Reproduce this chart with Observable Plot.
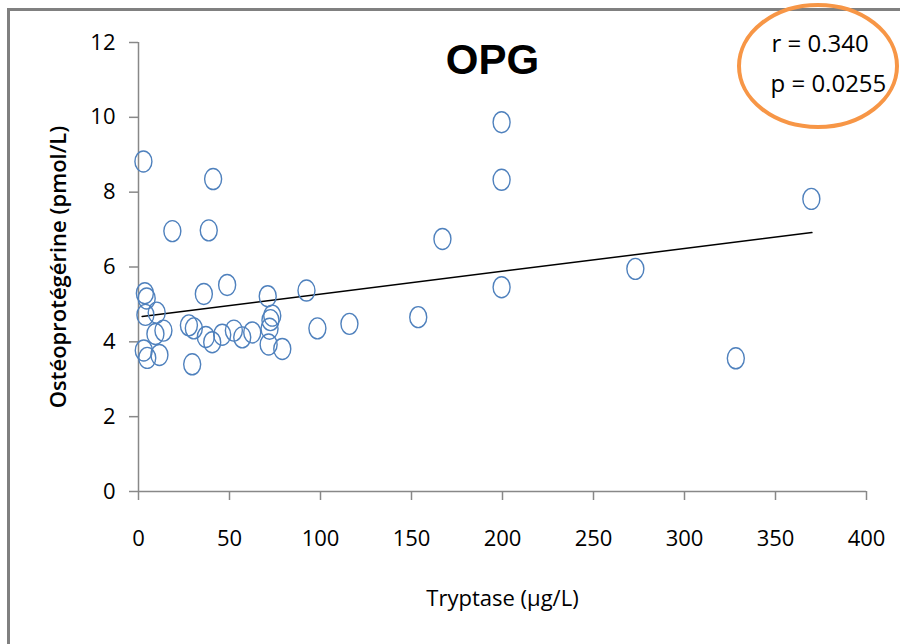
<!DOCTYPE html>
<html>
<head>
<meta charset="utf-8">
<script src="https://cdn.jsdelivr.net/npm/d3@7"></script>
<script src="https://cdn.jsdelivr.net/npm/@observablehq/plot@0.6"></script>
<style>
  html, body { margin: 0; padding: 0; background: #fff; overflow: hidden; }
  #chart svg { display: block; }
</style>
</head>
<body>
<div id="chart"></div>
<script>
// Tryptase (µg/L)
const tryptase = [
  2.7, 41, 18.6, 38.6,
  199.5, 199.5, 369.7, 167, 273, 199.5, 92.3, 115.9, 98.3, 153.7, 328.2,
  3.5, 4.5, 35.9, 48.7, 71,
  3.8, 10,
  9.3, 13.7,
  2.9, 4.8, 11.5,
  29.5,
  27.7, 30.4,
  37, 40.5, 46,
  52.4, 57, 62.5,
  73.5, 72.5, 72, 71.5, 79
];
// Ostéoprotégérine (pmol/L)
const opg = [
  8.82, 8.35, 6.96, 6.98,
  9.87, 8.33, 7.82, 6.75, 5.95, 5.46, 5.37, 4.48, 4.36, 4.66, 3.56,
  5.30, 5.16, 5.28, 5.52, 5.22,
  4.72, 4.78,
  4.21, 4.30,
  3.77, 3.57, 3.65,
  3.40,
  4.44, 4.36,
  4.13, 3.99, 4.19,
  4.30, 4.12, 4.25,
  4.70, 4.58, 4.35, 3.93, 3.81
];
// regression line end points
const trendX = [2, 370];
const trendY = [4.68, 6.92];

const xTicks = [0, 50, 100, 150, 200, 250, 300, 350, 400];
const yTicks = [0, 2, 4, 6, 8, 10, 12];

const title = "OPG";
const statsLines = ["r = 0.340", "p = 0.0255"];
const xLabel = "Tryptase (µg/L)";
const yLabel = "Ostéoprotégérine (pmol/L)";

const points = tryptase.map((x, i) => ({x, y: opg[i]}));
const trend = trendX.map((x, i) => ({x, y: trendY[i]}));

const ellipseSymbol = {
  draw(context) {
    const rx = 8.5, ry = 10.5, k = 0.5523;
    context.moveTo(rx, 0);
    context.bezierCurveTo(rx, k * ry, k * rx, ry, 0, ry);
    context.bezierCurveTo(-k * rx, ry, -rx, k * ry, -rx, 0);
    context.bezierCurveTo(-rx, -k * ry, -k * rx, -ry, 0, -ry);
    context.bezierCurveTo(k * rx, -ry, rx, -k * ry, rx, 0);
    context.closePath();
  }
};

const tickFont = "'Open Sans', sans-serif";

const chart = Plot.plot({
  width: 900,
  height: 644,
  marginLeft: 138,
  marginRight: 34,
  marginTop: 42,
  marginBottom: 153,
  style: {background: "#fff", fontFamily: tickFont, fontSize: "22px", color: "#000", maxWidth: "none"},
  x: {domain: [0, 400]},
  y: {domain: [0, 12]},
  marks: [
    Plot.axisX({ticks: xTicks, tickSize: 9, tickPadding: 30, stroke: "#888", strokeWidth: 1.5, fontSize: 22, label: null, fill: "#000"}),
    Plot.axisY({ticks: yTicks, tickSize: 9, tickPadding: 14, stroke: "#888", strokeWidth: 1.5, fontSize: 22, label: null, fill: "#000"}),
    Plot.ruleX([0], {stroke: "#888", strokeWidth: 1.5}),
    Plot.ruleY([0], {stroke: "#888", strokeWidth: 1.5}),
    Plot.line(trend, {x: "x", y: "y", stroke: "#000", strokeWidth: 1.5}),
    Plot.dot(points, {x: "x", y: "y", symbol: ellipseSymbol, stroke: "#4f81bd", strokeWidth: 1.4, fill: "none"}),
    Plot.text([title], {frameAnchor: "top", dx: -10, dy: 18, lineAnchor: "middle", fontSize: 42, fontWeight: "bold", fontFamily: "'Liberation Sans', Arial, sans-serif", fill: "#000"}),
    Plot.text([statsLines[0]], {frameAnchor: "top-left", dx: 633, dy: 2, textAnchor: "start", lineAnchor: "middle", fontSize: 24, fill: "#000"}),
    Plot.text([statsLines[1]], {frameAnchor: "top-left", dx: 632, dy: 42, textAnchor: "start", lineAnchor: "middle", fontSize: 24, fill: "#000"}),
    Plot.text([xLabel], {frameAnchor: "bottom", dy: 107, lineAnchor: "middle", fontSize: 22, fill: "#000"}),
    Plot.text([yLabel], {frameAnchor: "left", dx: -80, rotate: -90, textAnchor: "middle", lineAnchor: "middle", fontSize: 22, fontWeight: 600, fill: "#000"})
  ]
});

// outer frame and highlight ellipse (decoration)
const svg = d3.select(chart);
svg.append("rect")
  .attr("x", 7).attr("y", 8).attr("width", 893).attr("height", 3)
  .attr("fill", "#808080");
svg.append("rect")
  .attr("x", 7).attr("y", 8).attr("width", 3).attr("height", 636)
  .attr("fill", "#808080");
svg.append("ellipse")
  .attr("cx", 818).attr("cy", 66).attr("rx", 79).attr("ry", 61)
  .attr("fill", "none").attr("stroke", "#f79646").attr("stroke-width", 4);

document.getElementById("chart").appendChild(chart);
</script>
</body>
</html>
